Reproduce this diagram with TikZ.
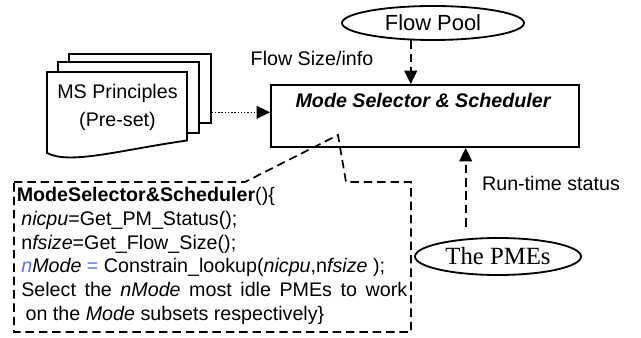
\documentclass[tikz,border=0pt]{standalone}
\usepackage{fontspec}
\setmainfont{Liberation Sans}
\newfontfamily\pmefont{Liberation Serif}
\usetikzlibrary{shapes.geometric,arrows.meta,positioning}
\definecolor{nblue}{RGB}{95,110,235}

\begin{document}
\begin{tikzpicture}[x=0.25cm,y=0.25cm,
    every node/.style={font=\fontsize{14}{16.9}\selectfont},
    page/.style={draw,line width=1.3pt,fill=white,inner sep=0pt},
    pool/.style={draw,ellipse,line width=1.3pt,inner sep=0pt},
    dashline/.style={line width=1.2pt,dash pattern=on 6pt off 3.5pt},
    tip/.style={-{Triangle[length=9.5pt,width=9pt]}}]
  \useasboundingbox (0,0) rectangle (64.1,33.7);

  % stack of principle sheets
  \node[page,minimum width=3.54cm,minimum height=1.725cm] (pg3) at (14.0,24.85) {};
  \node[page,minimum width=3.52cm,minimum height=1.775cm] (pg2) at (12.87,23.95) {};
  \draw[page] (4.7,26.5) -- (18.7,26.5) -- (18.7,19.65)
    .. controls (12.0,18.7) and (7.0,17.2) .. (4.7,18.4) -- cycle;
  \node[align=center,font=\fontsize{14}{20}\selectfont] (msp) at (11.75,23.0) {MS Principles\\(Pre-set)};

  \node[draw,line width=1.3pt,minimum width=7.7cm,minimum height=1.55cm,inner sep=0pt] (mss) at (42.5,22.1) {};
  \node[font=\fontsize{14}{16.9}\selectfont\bfseries\itshape] (msstitle) at (42.3,23.7) {Mode Selector \& Scheduler};

  \node[pool,minimum width=4.55cm,minimum height=0.85cm,font=\fontsize{15.6}{18}\selectfont] (pool) at (43.3,31.4) {Flow Pool};
  \node (fsize) at (31.2,27.9) {Flow Size/info};
  \draw[dashline,tip] (pool.218) -- (pool.218 |- mss.north);

  \coordinate (msout) at ([yshift=0.29cm]pg3.south east);
  \draw[line width=1pt,dash pattern=on 1pt off 1.3pt,tip] (msout) -- (msout -| mss.west);

  \node[pool,minimum width=4.15cm,minimum height=0.925cm,font=\fontsize{17.6}{20}\pmefont\selectfont] (pme) at (49.8,8.05) {The PMEs};
  \draw[dashline,tip] ([yshift=0.3cm]pme.151) -- (pme.151 |- mss.south);
  \node (rts) at (55.1,15.4) {Run-time status};

  % call-out with the routine
  \draw[dashline] (1.4,15.5) -- (24.5,15.5) -- (33.8,20.2) -- (34.6,15.5) -- (41.1,15.5)
    -- (41.1,0.5) -- (1.4,0.5) -- cycle;
  \node[anchor=base west,text width=9.76cm,align=justify,inner sep=0pt] (code) at (1.65,13.55) {%
    \textbf{ModeSelector\&Scheduler}()\{\par
    \hspace*{0.23em}\textit{nicpu}=Get\_PM\_Status();\par
    \hspace*{0.23em}n\textit{fsize}=Get\_Flow\_Size();\par
    \hspace*{0.23em}\textcolor{nblue}{\textit{n}}\textit{Mode} \textcolor{nblue}{=} Constrain\_lookup(\textit{nicpu},n\textit{fsize} );\par
    \hspace*{0.23em}Select the \textit{nMode} most idle PMEs to work\linebreak
    \hspace*{0.45em}on the \textit{Mode} subsets respectively\}};
\end{tikzpicture}
\end{document}
